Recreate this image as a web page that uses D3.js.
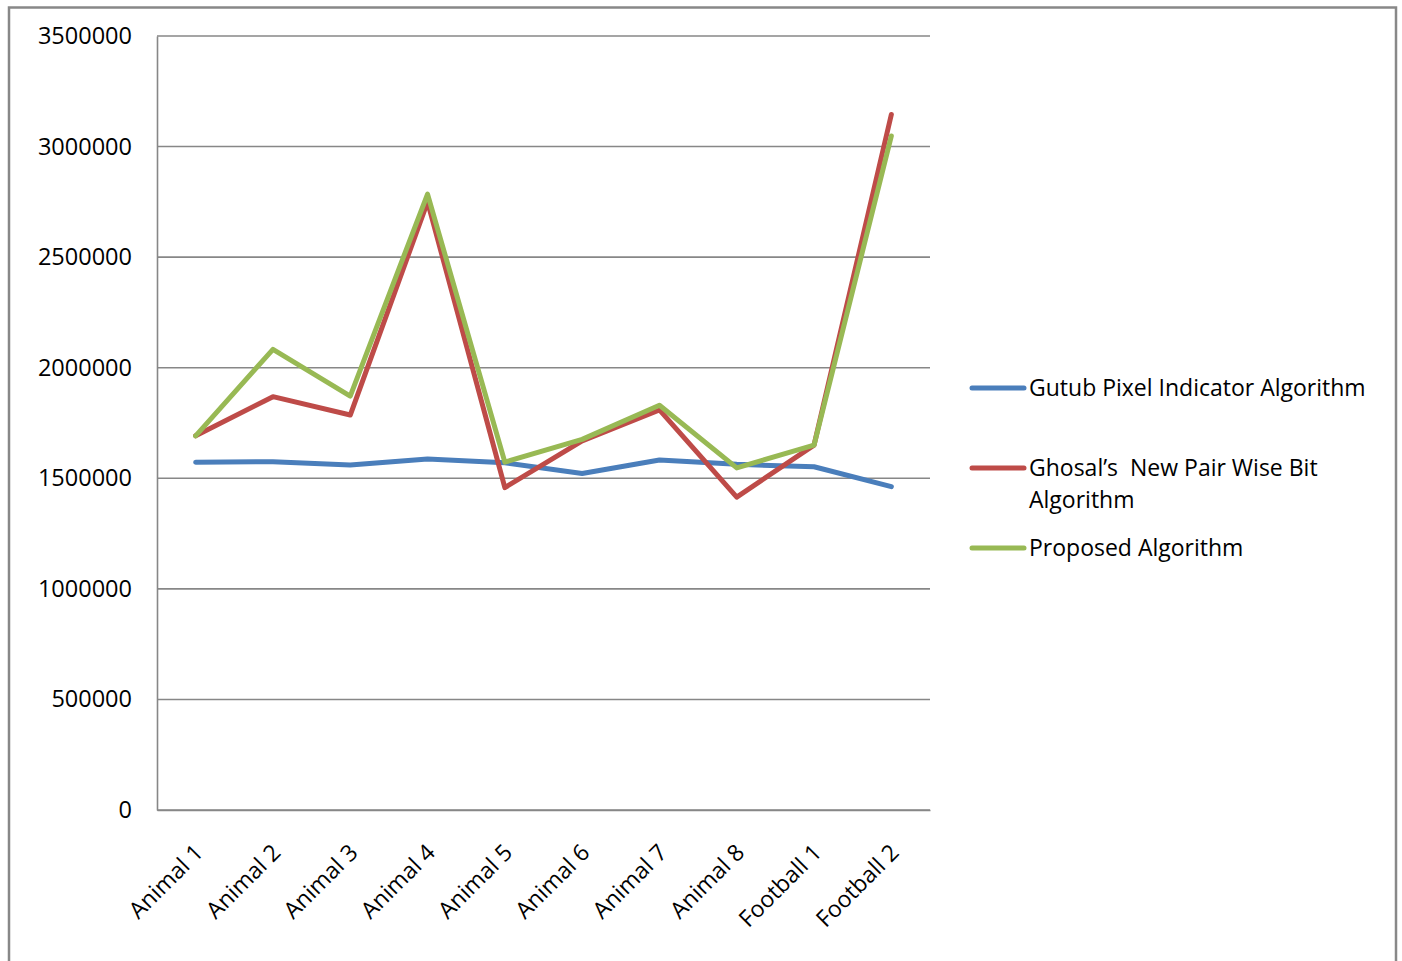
<!DOCTYPE html>
<html><head><meta charset="utf-8">
<script src="https://cdn.jsdelivr.net/npm/d3@7"></script>
<style>body{margin:0;background:#fff;} svg{display:block;}</style>
</head><body>
<script>
const categories = ["Animal 1","Animal 2","Animal 3","Animal 4","Animal 5","Animal 6","Animal 7","Animal 8","Football 1","Football 2"];
const gutub = [1573000,1575000,1560000,1587000,1570000,1522000,1583000,1563000,1552000,1462000];
const ghosal = [1692000,1869000,1786000,2750000,1458000,1669000,1809000,1415000,1650000,3145000];
const proposed = [1692000,2083000,1872000,2785000,1573000,1676000,1830000,1547000,1650000,3048000];
const yTicks = [0,500000,1000000,1500000,2000000,2500000,3000000,3500000];
const seriesNames = ["Gutub Pixel Indicator Algorithm","Ghosal\u2019s  New Pair Wise Bit|Algorithm","Proposed Algorithm"];
const colors = ["#4A7EBB","#BE4B48","#98B954"];

const W=1402,H=961;
const svg=d3.select("body").append("svg").attr("width",W).attr("height",H);
const font="'Open Sans', sans-serif";
// outer border
svg.append("rect").attr("x",9).attr("y",7.5).attr("width",1387).attr("height",H+10)
  .attr("fill","none").attr("stroke","#888").attr("stroke-width",2.5);

const L=157,R=930,T=36,B=810;
const x=d3.scaleBand().domain(categories).range([L,R]);
const y=d3.scaleLinear().domain([0,3500000]).range([B,T]);

// gridlines
svg.append("g").selectAll("line").data(yTicks).join("line")
  .attr("x1",L).attr("x2",R).attr("y1",d=>y(d)).attr("y2",d=>y(d))
  .attr("stroke","#878787").attr("stroke-width",1.6);
// axes
const ya=svg.append("g").attr("transform",`translate(${L},0)`)
  .call(d3.axisLeft(y).tickValues(yTicks).tickFormat(d3.format("d")).tickSize(0).tickPadding(25));
ya.select(".domain").attr("stroke","#878787").attr("stroke-width",1.6);
ya.selectAll("text").attr("font-family",font).attr("font-size","23.5px").attr("fill","#000");

const xa=svg.append("g").attr("transform",`translate(0,${B})`)
  .call(d3.axisBottom(x).tickSize(0).tickPadding(0));
xa.select(".domain").attr("stroke","#878787").attr("stroke-width",1.6);
xa.selectAll("text").attr("font-family",font).attr("font-size","23px").attr("fill","#000")
  .attr("text-anchor","end").attr("dy","0")
  .attr("transform","translate(9,44) rotate(-45)");

const line=d3.line().x((d,i)=>x(categories[i])+x.bandwidth()/2).y(d=>y(d));
[gutub,ghosal,proposed].forEach((s,i)=>{
  svg.append("path").datum(s).attr("d",line).attr("fill","none")
    .attr("stroke",colors[i]).attr("stroke-width",5).attr("stroke-linejoin","round").attr("stroke-linecap","round");
});

// legend
const legY=[388,468,548];
seriesNames.forEach((n,i)=>{
  const g=svg.append("g");
  g.append("line").attr("x1",972).attr("x2",1024).attr("y1",legY[i]).attr("y2",legY[i])
    .attr("stroke",colors[i]).attr("stroke-width",5).attr("stroke-linecap","round");
  const t=g.append("text").attr("x",1029).attr("y",legY[i])
    .attr("font-family",font).attr("font-size","23px").attr("fill","#000");
  n.split("|").forEach((p,j)=>{
    t.append("tspan").attr("x",1029).attr("dy",j===0?"0.35em":"32px").attr("xml:space","preserve").text(p);
  });
});
</script>
</body></html>
